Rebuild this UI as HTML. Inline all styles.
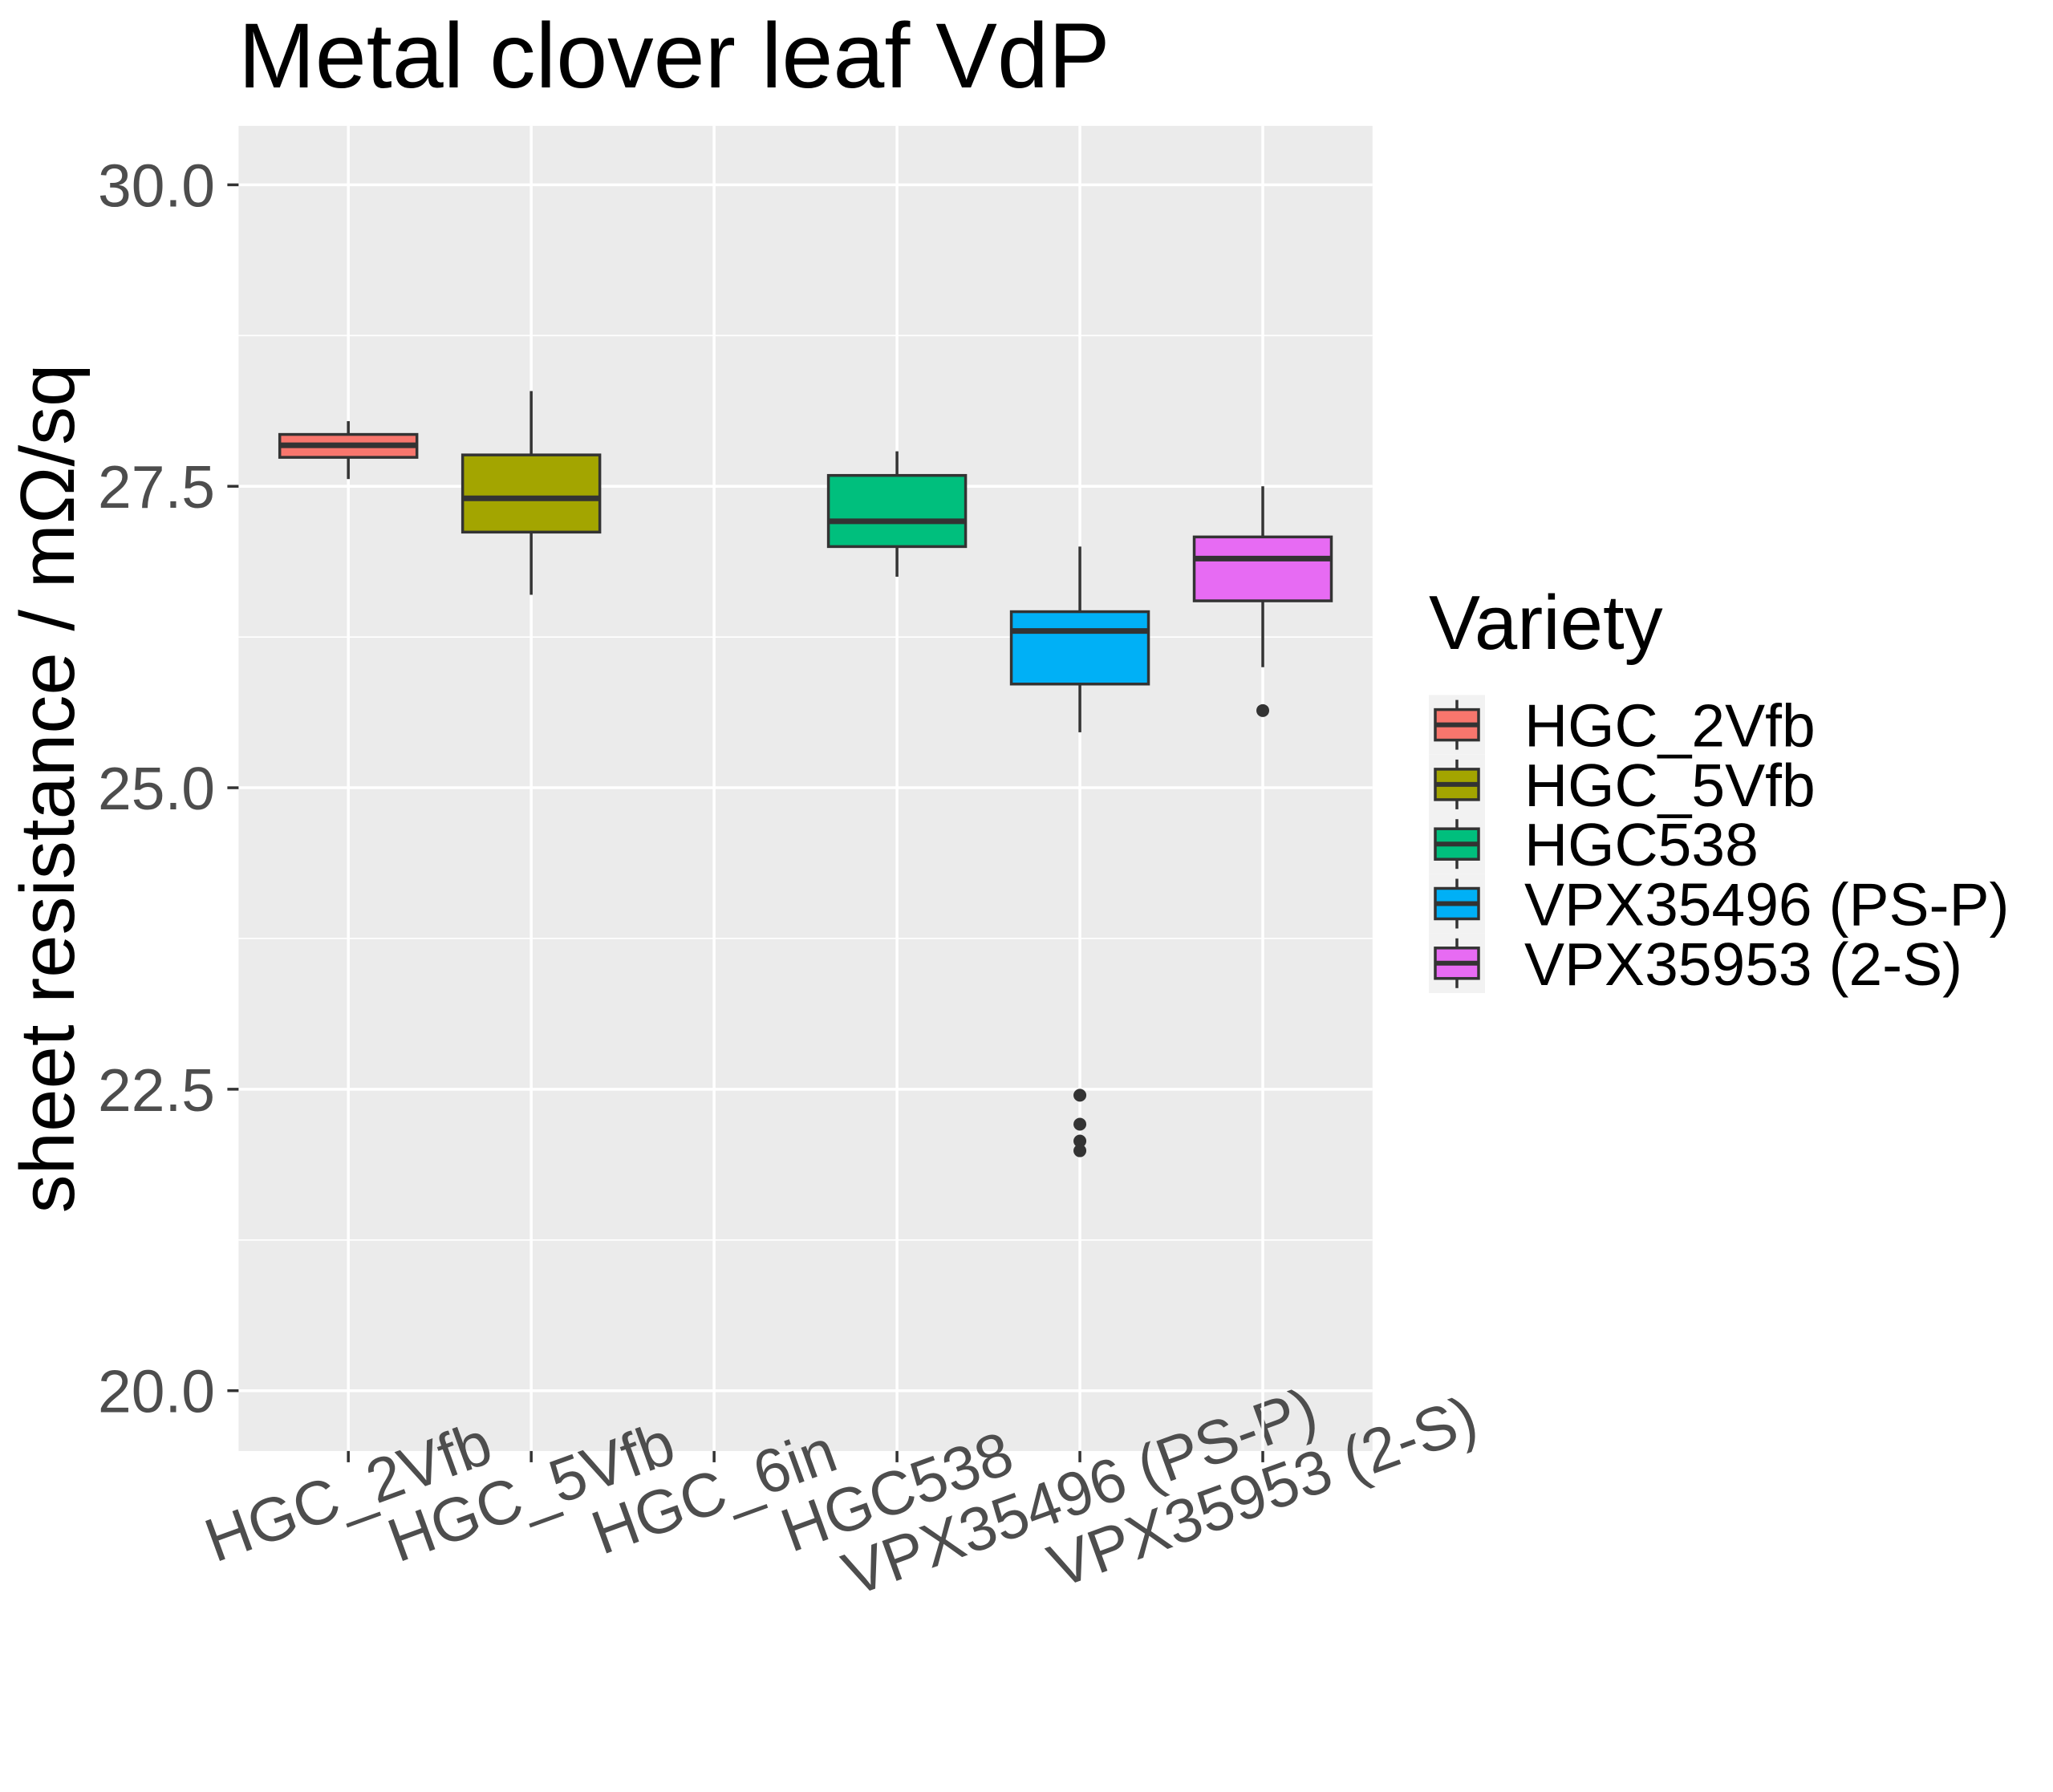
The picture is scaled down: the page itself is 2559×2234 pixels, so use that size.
<!DOCTYPE html>
<html><head><meta charset="utf-8"><style>
html,body{margin:0;padding:0;background:#fff}
svg{display:block;font-family:"Liberation Sans",sans-serif}
</style></head><body>
<svg id="chart" width="2559" height="2234" viewBox="0 0 2559 2234" xmlns="http://www.w3.org/2000/svg">
<rect width="2559" height="2234" fill="#fff"/>
<text x="297" y="109" font-size="115" fill="#000">Metal clover leaf VdP</text>
<g id="plot"></g>
<g id="legend"></g>
</svg>
<script>
const categories = ["HGC_2Vfb","HGC_5Vfb","HGC_6in","HGC538","VPX35496 (PS-P)","VPX35953 (2-S)"];
const lowWhisker = [27.56, 26.60, null, 26.75, 25.46, 26.00];
const q1 = [27.74, 27.12, null, 27.00, 25.86, 26.55];
const median = [27.84, 27.40, null, 27.21, 26.30, 26.90];
const q3 = [27.93, 27.76, null, 27.59, 26.46, 27.08];
const highWhisker = [28.04, 28.29, null, 27.79, 27.00, 27.50];
const outliers = [[], [], [], [], [22.45, 22.21, 22.07, 21.99], [25.64]];
const colors = ["#F8766D","#A3A500",null,"#00BF7D","#00B0F6","#E76BF3"];
const yTicks = [20.0, 22.5, 25.0, 27.5, 30.0];
const yTickLabels = ["20.0","22.5","25.0","27.5","30.0"];
const legendLabels = ["HGC_2Vfb","HGC_5Vfb","HGC538","VPX35496 (PS-P)","VPX35953 (2-S)"];
const legendColors = ["#F8766D","#A3A500","#00BF7D","#00B0F6","#E76BF3"];

const NS="http://www.w3.org/2000/svg";
const PL=297.4, PR=1710.8, PT=156.9, PB=1808.9;
const yV0=20, yP0=1733.7, yV1=30, yP1=230.4;
function yS(v){return yP0+(v-yV0)*(yP1-yP0)/(yV1-yV0);}
const step=(PR-PL)/6.2;
function xS(i){return PL+(i+1-0.4)*step;}
function el(tag,attrs,parent){const e=document.createElementNS(NS,tag);for(const k in attrs)e.setAttribute(k,attrs[k]);parent.appendChild(e);return e;}
const plot=document.getElementById('plot');
const bg=el('rect',{x:PL,y:PT,width:PR-PL,height:PB-PT,fill:'#EBEBEB'},plot);


for(let i=0;i<yTicks.length-1;i++){
  const m=(yTicks[i]+yTicks[i+1])/2;
  const g=el('line',{x1:PL,x2:PR,y1:yS(m),y2:yS(m),stroke:'#fff','stroke-width':1.6},plot);
  
  
}
yTicks.forEach((t,i)=>{
  const g=el('line',{x1:PL,x2:PR,y1:yS(t),y2:yS(t),stroke:'#fff','stroke-width':3.5},plot);
  
  
  const tk=el('line',{x1:PL-14,x2:PL,y1:yS(t),y2:yS(t),stroke:'#333','stroke-width':3.5},plot);
  
  
  const tx=el('text',{x:268,y:yS(t)+27,'text-anchor':'end','font-size':75,fill:'#4D4D4D'},plot);
  tx.textContent=yTickLabels[i];
  
  
});
categories.forEach((c,i)=>{
  const x=xS(i);
  const g=el('line',{x1:x,x2:x,y1:PT,y2:PB,stroke:'#fff','stroke-width':3.5},plot);
  
  
  const tk=el('line',{x1:x,x2:x,y1:PB,y2:PB+14,stroke:'#333','stroke-width':3.5},plot);
  
  
  const cy=1860;
  const tx=el('text',{x:x,y:cy,'text-anchor':'middle','dominant-baseline':'central','font-size':77,fill:'#4D4D4D',transform:`rotate(-20 ${x} ${cy})`},plot);
  tx.textContent=c;
  
  
});
const bw=step*0.75;
categories.forEach((c,i)=>{
  if(q1[i]==null) return;
  const x=xS(i);
  const g=el('g',{},plot);
  
  
  const w1=el('line',{x1:x,x2:x,y1:yS(highWhisker[i]),y2:yS(q3[i]),stroke:'#333','stroke-width':3.5},g);
  
  
  const w2=el('line',{x1:x,x2:x,y1:yS(q1[i]),y2:yS(lowWhisker[i]),stroke:'#333','stroke-width':3.5},g);
  
  
  const r=el('rect',{x:x-bw/2,y:yS(q3[i]),width:bw,height:yS(q1[i])-yS(q3[i]),fill:colors[i],stroke:'#333','stroke-width':3.5},g);
  
  
  const m=el('line',{x1:x-bw/2,x2:x+bw/2,y1:yS(median[i]),y2:yS(median[i]),stroke:'#333','stroke-width':7},g);
  
  
  outliers[i].forEach(v=>{
    const p=el('circle',{cx:x,cy:yS(v),r:8,fill:'#333'},g);
    
    
  });
});
const yt=el('text',{x:0,y:0,'text-anchor':'middle','font-size':96,fill:'#000',transform:`translate(92 ${(PT+PB)/2}) rotate(-90)`},plot);
yt.textContent='sheet resistance / mΩ/sq';



const lg=document.getElementById('legend');
const lt=el('text',{x:1781,y:809,'font-size':96,fill:'#000'},lg);
lt.textContent='Variety';


const L0=903.6, LS=74.3;
legendLabels.forEach((lab,i)=>{
  const cy=L0+i*LS;
  const g=el('g',{},lg);
  
  
  const kb=el('rect',{x:1781,y:cy-LS/2,width:70,height:LS,fill:'#F2F2F2'},g);
  
  
  const ww=el('line',{x1:1816,x2:1816,y1:cy-31,y2:cy+31,stroke:'#333','stroke-width':3.5},g);
  
  
  const kr=el('rect',{x:1789,y:cy-19,width:54,height:38,fill:legendColors[i],stroke:'#333','stroke-width':3.5},g);
  
  
  const km=el('line',{x1:1789,x2:1843,y1:cy,y2:cy,stroke:'#333','stroke-width':6},g);
  
  
  const t=el('text',{x:1900,y:cy+27,'font-size':75,fill:'#000'},g);
  t.textContent=lab;
  
  
});
</script>
</body></html>
